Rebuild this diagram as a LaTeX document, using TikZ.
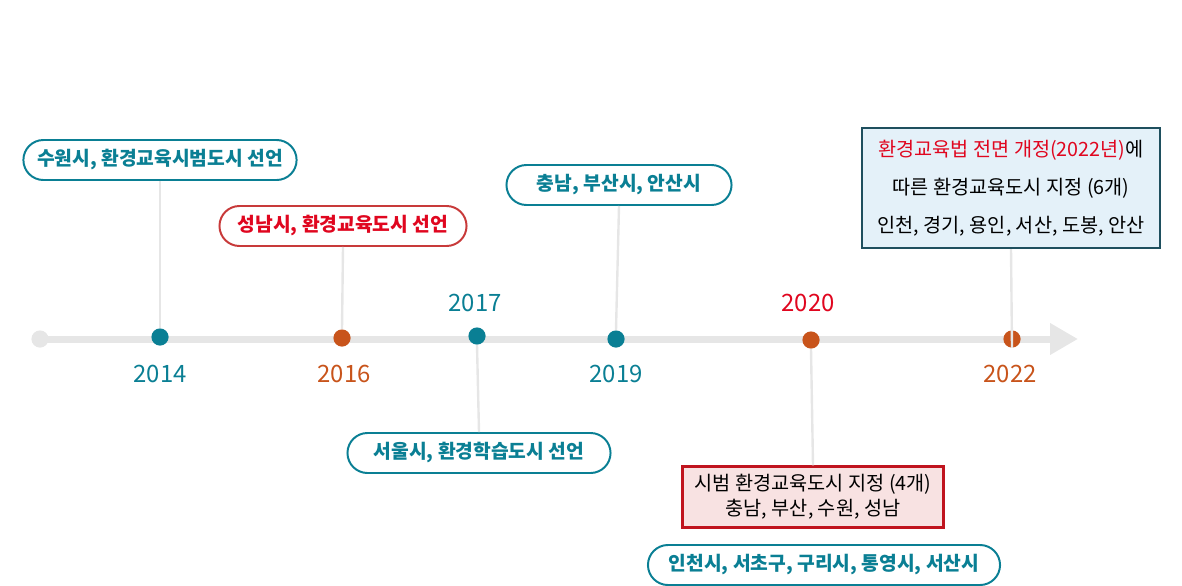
\documentclass[tikz,border=0pt]{standalone}
\usepackage{fontspec}
\setmainfont{Noto Sans CJK KR}
\usetikzlibrary{arrows.meta,positioning}
\definecolor{tlTeal}{HTML}{0A7F94}
\definecolor{tlOrange}{HTML}{C8541B}
\definecolor{tlRed}{HTML}{E0061F}
\definecolor{tlRedBorder}{HTML}{C83A3A}
\definecolor{tlGrey}{HTML}{E6E6E6}
\definecolor{boxRedBorder}{HTML}{C0141E}
\definecolor{boxRedFill}{HTML}{F8E2E2}
\definecolor{boxBlueBorder}{HTML}{1E4F5E}
\definecolor{boxBlueFill}{HTML}{E4F1F9}

\begin{document}
\begin{tikzpicture}[
        x=0.025cm, y=-0.025cm,
        pill/.style={
            draw=tlTeal,
            fill=white,
            line width=1.4pt,
            rounded corners=0.5cm,
            minimum height=1cm,
            inner xsep=0.34cm,
            text=tlTeal,
            font=\fontsize{13.7}{16}\selectfont\bfseries
        },
        year/.style={
            font=\fontsize{17}{20}\selectfont
        },
        tldot/.style={
            circle,
            inner sep=0pt,
            minimum size=0.43cm
        },
        stem/.style={
            draw=tlGrey,
            line width=1.7pt
        },
        infobox/.style={
            line width=1.5pt,
            align=center,
            font=\fontsize{14}{18}\selectfont
        }
    ]
    \useasboundingbox (0,0) rectangle (1182,585);

    % time axis
    \coordinate (tlstart) at (40,339);
    \coordinate (tlend) at (1078,339);
    \draw[draw=tlGrey, line width=0.175cm,
        -{Triangle[length=0.7cm, width=0.75cm]}] (tlstart) -- (tlend);
    \node[tldot, fill=tlGrey] (dotstart) at (tlstart) {};

    % events
    \node[pill] (p2014) at (160,160) {수원시, 환경교육시범도시 선언};
    \node[pill, draw=tlRedBorder, text=tlRed, minimum width=6.175cm] (p2016) at (343,226) {성남시, 환경교육도시 선언};
    \node[pill, minimum width=6.575cm] (p2017) at (479,453) {서울시, 환경학습도시 선언};
    \node[pill, minimum width=5.625cm] (p2019) at (619,185) {충남, 부산시, 안산시};
    \node[pill, minimum width=8.8cm] (p2020) at (824,565) {인천시, 서초구, 구리시, 통영시, 서산시};

    \node[infobox, draw=boxRedBorder, fill=boxRedFill,
        minimum width=6.525cm, minimum height=1.525cm] (b2020) at (813,497)
        {시범 환경교육도시 지정 (4개)\\충남, 부산, 수원, 성남};

    \node[infobox, draw=boxBlueBorder, fill=boxBlueFill,
        minimum width=7.45cm, minimum height=3cm,
        font=\fontsize{14}{27}\selectfont] (b2022) at (1011,188)
        {{\color{tlRed}환경교육법 전면 개정(2022년)}에\\
         따른 환경교육도시 지정 (6개)\\
         인천, 경기, 용인, 서산, 도봉, 안산};

    \node[tldot, fill=tlTeal] (d2014) at (160,337) {};
    \node[tldot, fill=tlOrange] (d2016) at (342,338) {};
    \node[tldot, fill=tlTeal] (d2017) at (477,336) {};
    \node[tldot, fill=tlTeal] (d2019) at (616,339) {};
    \node[tldot, fill=tlOrange] (d2020) at (811,340) {};
    \node[tldot, fill=tlOrange] (d2022) at (1012,339) {};

    \draw[stem] (p2014.south) -- (d2014.north);
    \draw[stem] (p2016.south) -- (d2016.north);
    \draw[stem] (d2017.south) -- (p2017.north);
    \draw[stem] (p2019.south) -- (d2019.north);
    \draw[stem] (d2020.south) -- (b2020.north);
    \draw[stem] (b2022.south) -- (d2022.south);

    \node[year, text=tlTeal] (y2014) at (160,374) {2014};
    \node[year, text=tlOrange] (y2016) at (344,374) {2016};
    \node[year, text=tlTeal] (y2017) at (475,303) {2017};
    \node[year, text=tlTeal] (y2019) at (616,374) {2019};
    \node[year, text=tlRed] (y2020) at (808,303) {2020};
    \node[year, text=tlOrange] (y2022) at (1010,374) {2022};

\end{tikzpicture}
\end{document}
